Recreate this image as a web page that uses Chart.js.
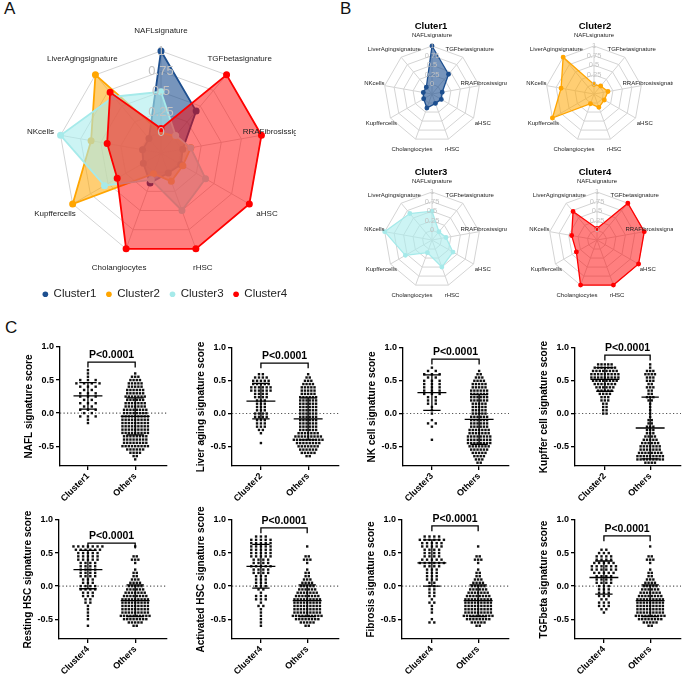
<!DOCTYPE html>
<html>
<head>
<meta charset="utf-8">
<script src="https://cdn.jsdelivr.net/npm/chart.js@4.4.1/dist/chart.umd.min.js"></script>
<style>
  body { margin: 0; width: 685px; height: 678px; position: relative; overflow: hidden; background: #fff;
         font-family: "Liberation Sans", Arial, sans-serif; }
  canvas { position: absolute; }
  .tag { position: absolute; font-size: 17px; line-height: 17px; color: #111; }
</style>
</head>
<body>
<div class="tag" style="left:4px;top:0px">A</div>
<div class="tag" style="left:340px;top:0px">B</div>
<div class="tag" style="left:5px;top:319px">C</div>
<script>
const FONT = '"Liberation Sans", Arial, sans-serif';

// ---------- panels A and B : radar scores ----------
const axisLabels = ['NAFLsignature', 'TGFbetasignature', 'RRAFibrosissignature', 'aHSC', 'rHSC',
                    'Cholangiocytes', 'Kupffercells', 'NKcells', 'LiverAgingsignature'];
const clusterNames = ['Cluster1', 'Cluster2', 'Cluster3', 'Cluster4'];
const clusterTitles = ['Cluter1', 'Cluter2', 'Cluter3', 'Cluter4'];
const cluster1 = [1, 0.42, 0.02, 0.03, 0.01, 0.14, 0.0, -0.02, -0.02];
const cluster2 = [0.0, 0.02, 0.12, 0.06, 0.12, 0.02, 1, 0.62, 1];
const cluster3 = [0.5, 0.03, 0.12, 0.38, 0.5, 0.1, 0.55, 1, 0.65];
const cluster4 = [0.05, 1, 1, 1, 1, 1, 0.37, 0.42, 0.72];
const radarMin = -0.25, radarMax = 1, radarStep = 0.25;

// ---------- panel C : dot counts per 0.05 step, from the start score ----------
const scoreTitles = ['NAFL signature score', 'Liver aging signature score', 'NK cell signature score',
  'Kupffer cell signature score', 'Resting HSC signature score', 'Activated HSC signature score',
  'Fibrosis signature score', 'TGFbeta signature score'];
const groupNames = [['Cluster1', 'Others'], ['Cluster2', 'Others'], ['Cluster3', 'Others'], ['Cluster2', 'Others'],
  ['Cluster4', 'Others'], ['Cluster4', 'Others'], ['Cluster4', 'Others'], ['Cluster4', 'Others']];
const pText = 'P<0.0001';
const yTicks = [-0.5, 0, 0.5, 1];

const naflCluster1 = [1,1,3,2,3,2,3,2,3,3,2,3,4,3,1,1,1];
const naflOthers = [1,2,4,6,9,8,8,8,9,9,9,9,9,9,8,8,7,7,6,7,6,6,5,5,4,3,1];
const agingCluster2 = [1,0,0,1,2,3,3,3,4,4,3,3,3,3,4,4,6,6,5,5,4,2];
const agingOthers = [2,5,6,7,8,10,9,7,6,6,6,6,6,6,6,6,6,6,6,5,5,5,4,3,2,1];
const nkCluster3 = [1,0,0,0,1,2,1,0,1,1,1,2,2,2,3,3,3,3,3,2,3,2,1];
const nkOthers = [2,3,4,5,6,7,8,8,8,7,7,6,6,6,6,5,5,5,5,6,6,6,6,5,5,4,3,2,1];
const kupfferCluster2 = [2,2,2,2,3,3,4,5,6,7,8,9,9,8,7,5];
const kupfferOthers = [4,9,9,8,7,7,6,5,4,3,3,3,2,2,1,1,1,1,1,2,3,2,2,3,2,3,3,4,3,1,1];
const restingCluster4 = [1,0,1,1,1,1,1,2,2,3,3,4,4,3,3,4,4,4,4,4,5,5,5,6,7];
const activatedCluster4 = [1,1,1,1,1,1,2,1,3,3,1,2,3,3,3,3,4,4,5,4,4,5,5,5,5,5,5,3];
const fibrosisCluster4 = [2,1,0,1,1,1,2,1,2,2,2,2,2,3,3,3,3,4,6,5,4,4,4,5,5,6,4];
const tgfbCluster4 = [1,2,3,3,2,3,3,3,3,4,4,4,5,6,6,5,4,4,3,2];
const hscOthers = [2,5,8,10,9,9,9,9,9,8,7,6,5,4,3,2,2,1,0,1,3,2,0,0,1];

const groupCounts = [[naflCluster1, naflOthers], [agingCluster2, agingOthers], [nkCluster3, nkOthers],
  [kupfferCluster2, kupfferOthers], [restingCluster4, hscOthers], [activatedCluster4, hscOthers],
  [fibrosisCluster4, hscOthers], [tgfbCluster4, hscOthers]];
const groupStart = [[-0.15, -0.7], [-0.45, -0.65], [-0.4, -0.75], [0, -0.75],
  [-0.6, -0.6], [-0.6, -0.6], [-0.55, -0.6], [-0.4, -0.6]];
const groupMean = [[0.26, -0.05], [0.19, -0.08], [0.32, -0.09], [0.52, -0.22],
  [0.25, -0.22], [0.3, -0.22], [0.35, -0.22], [0.13, -0.22]];
const groupSD = [[0.2, 0.28], [0.27, 0.32], [0.27, 0.38], [0.18, 0.47],
  [0.29, 0.24], [0.33, 0.24], [0.35, 0.24], [0.25, 0.24]];
const scoreStep = 0.05;

// ---------- layout ----------
const lineColors = ['#1d4f8f', '#ffa500', '#a6eaea', '#ff0000'];
const fillColors = ['rgba(29,79,143,0.6)', 'rgba(255,165,0,0.55)', 'rgba(170,236,236,0.6)', 'rgba(255,0,0,0.5)'];
const plotBoxes = [
  {axisX: 60, cat1X: 89, cat2X: 138, endX: 171, topY: 347, bottomY: 466, bracket: 0.77, gap: [8, 3.3]},
  {axisX: 232, cat1X: 262, cat2X: 311, endX: 343, topY: 348, bottomY: 466, bracket: 0.77, gap: [4, 3.3]},
  {axisX: 403, cat1X: 433, cat2X: 482, endX: 513, topY: 348, bottomY: 466, bracket: 0.83, gap: [8, 3.3]},
  {axisX: 575, cat1X: 606, cat2X: 653, endX: 685, topY: 348, bottomY: 466, bracket: 0.89, gap: [3.5, 3.3]},
  {axisX: 59, cat1X: 89, cat2X: 138, endX: 171, topY: 520, bottomY: 639, bracket: 0.65, gap: [5, 3.3]},
  {axisX: 232, cat1X: 262, cat2X: 310, endX: 343, topY: 520, bottomY: 639, bracket: 0.88, gap: [5, 3.3]},
  {axisX: 402, cat1X: 433, cat2X: 481, endX: 513, topY: 520, bottomY: 639, bracket: 0.91, gap: [5, 3.3]},
  {axisX: 575, cat1X: 605, cat2X: 653, endX: 685, topY: 520, bottomY: 639, bracket: 0.76, gap: [5, 3.3]}
];

Chart.defaults.font.family = FONT;
Chart.defaults.color = '#000';
Chart.defaults.plugins.tooltip.enabled = false;

function addCanvas(left, top, width, height) {
  const c = document.createElement('canvas');
  c.width = width; c.height = height;
  c.style.left = left + 'px'; c.style.top = top + 'px';
  c.style.width = width + 'px'; c.style.height = height + 'px';
  document.body.appendChild(c);
  return c;
}

// axis names, centred on each spoke (cut at the panel edge like the original)
const spokeLabels = {
  id: 'spokeLabels',
  afterDatasetsDraw(chart, args, opts) {
    const r = chart.scales.r, ctx = chart.ctx;
    ctx.save();
    ctx.beginPath();
    ctx.rect(0, 0, opts.clipRight || chart.width, chart.height);
    ctx.clip();
    ctx.font = opts.size + 'px ' + FONT;
    ctx.fillStyle = '#222';
    ctx.textAlign = 'center';
    ctx.textBaseline = 'middle';
    chart.data.labels.forEach((t, i) => {
      const p = r.getPointPosition(i, r.drawingArea * opts.dist);
      ctx.fillText(t, p.x, p.y);
    });
    ctx.restore();
  }
};

function radarDataset(k, big) {
  return {
    label: clusterNames[k],
    data: [cluster1, cluster2, cluster3, cluster4][k],
    borderColor: lineColors[k], backgroundColor: fillColors[k],
    pointBackgroundColor: lineColors[k], pointBorderColor: lineColors[k],
    pointRadius: big ? 2.6 : 1.8, borderWidth: big ? 1.8 : 1.3,
    fill: 'start', clip: false, order: 4 - k
  };
}

function radarChart(canvas, datasets, o) {
  return new Chart(canvas, {
    type: 'radar',
    data: {labels: axisLabels, datasets: datasets},
    options: {
      responsive: false, animation: false, events: [], devicePixelRatio: 1,
      layout: {padding: o.padding},
      scales: {
        r: {
          min: radarMin, max: radarMax,
          ticks: {stepSize: radarStep, showLabelBackdrop: false, color: '#c2c2c2', z: 1,
                  font: {size: o.tickSize}, callback: v => v < 0 ? '' : String(+v.toFixed(2))},
          grid: {color: '#d4d4d4'},
          angleLines: {color: '#d4d4d4'},
          pointLabels: {display: false},
          afterFit: s => { s.xCenter = o.cx; s.yCenter = o.cy; s.drawingArea = o.radius; }
        }
      },
      plugins: {
        legend: o.legend || {display: false},
        title: o.title || {display: false},
        spokeLabels: {size: o.labelSize, dist: o.dist, clipRight: o.clipRight}
      }
    },
    plugins: [spokeLabels]
  });
}

// Panel A
radarChart(addCanvas(0, 0, 330, 310), [0, 1, 2, 3].map(k => radarDataset(k, true)), {
  cx: 161, cy: 153, radius: 102, tickSize: 13, labelSize: 8, dist: 1.2, clipRight: 296,
  padding: {top: 40},
  legend: {
    display: true, position: 'bottom',
    labels: {
      usePointStyle: true, pointStyle: 'circle', boxWidth: 5, boxHeight: 4, padding: 10,
      font: {size: 11.5}, color: '#222',
      sort: (a, b) => a.datasetIndex - b.datasetIndex,
      generateLabels: chart => Chart.defaults.plugins.legend.labels.generateLabels(chart)
        .map(l => Object.assign(l, {fillStyle: l.strokeStyle, lineWidth: 0}))
    }
  }
});

// Panel B
const smallBoxes = [
  {left: 355, top: 15, width: 152, cx: 77},
  {left: 517, top: 15, width: 156, cx: 77},
  {left: 355, top: 161, width: 152, cx: 77},
  {left: 517, top: 161, width: 156, cx: 80}
];
smallBoxes.forEach((b, k) => {
  radarChart(addCanvas(b.left, b.top, b.width, 142), [radarDataset(k, false)], {
    cx: b.cx, cy: 79, radius: 48, tickSize: 7.5, labelSize: 6, dist: 1.22,
    padding: 0,
    title: {display: true, text: clusterTitles[k], color: '#000',
            font: {size: 9.5, weight: 'bold'}, padding: {top: 6, bottom: 4}}
  });
});

// Panel C
const pValue = {
  id: 'pValue',
  afterDatasetsDraw(chart, args, opts) {
    const {ctx, scales: {x, y}} = chart;
    ctx.save();
    ctx.font = 'bold 10.5px ' + FONT;
    ctx.fillStyle = '#000';
    ctx.textAlign = 'center';
    ctx.textBaseline = 'bottom';
    ctx.fillText(opts.text, x.getPixelForValue(1.5), y.getPixelForValue(opts.at) - 2);
    ctx.restore();
  }
};

function dotRows(counts, start, cat, gap) {
  const pts = [];
  counts.forEach((n, i) => {
    const y = +(start + i * scoreStep).toFixed(2);
    for (let j = 0; j < n; j++) pts.push({x: cat + (j - (n - 1) / 2) * gap, y: y});
  });
  return pts;
}

function meanSD(cat, mean, sd, mw, cw) {
  return [
    {x: cat - mw, y: mean}, {x: cat + mw, y: mean}, {x: cat, y: null},
    {x: cat - cw, y: mean + sd}, {x: cat + cw, y: mean + sd}, {x: cat, y: null},
    {x: cat - cw, y: mean - sd}, {x: cat + cw, y: mean - sd}, {x: cat, y: null},
    {x: cat, y: mean - sd}, {x: cat, y: mean + sd}
  ];
}

function scorePlot(i) {
  const b = plotBoxes[i];
  const left = b.axisX - 60, top = b.topY - 22;
  const height = (i < 4 ? 507 : 678) - top;
  const unit = b.cat2X - b.cat1X;
  const xMin = 1 - (b.cat1X - b.axisX) / unit, xMax = 2 + (b.endX - b.cat2X) / unit;
  const axisStyle = {display: true, color: '#000', width: 1.3};
  const tickStyle = {drawOnChartArea: false, drawTicks: true, tickLength: 4, color: '#000', lineWidth: 1.3};
  const lineSet = (data, extra) => Object.assign({type: 'line', data: data, borderColor: '#000',
    borderWidth: 1.3, pointRadius: 0, fill: false, order: 1}, extra || {});
  const dotSet = (g) => ({data: dotRows(groupCounts[i][g], groupStart[i][g], g + 1, b.gap[g] / unit),
    pointRadius: 1.7, pointStyle: 'rect', backgroundColor: '#111', borderWidth: 0, order: 3});

  const datasets = [
    lineSet([{x: xMin, y: 0}, {x: xMax, y: 0}], {borderColor: '#555', borderWidth: 1.1, borderDash: [1.2, 2.3], order: 5}),
    dotSet(0), dotSet(1),
    lineSet(meanSD(1, groupMean[i][0], groupSD[i][0], 15 / unit, 9 / unit)),
    lineSet(meanSD(2, groupMean[i][1], groupSD[i][1], 15 / unit, 9 / unit)),
    lineSet([{x: 1, y: b.bracket - 0.08}, {x: 1, y: b.bracket}, {x: 2, y: b.bracket}, {x: 2, y: b.bracket - 0.08}])
  ];

  new Chart(addCanvas(left, top, b.endX - left, height), {
    type: 'scatter',
    data: {datasets: datasets},
    options: {
      responsive: false, animation: false, events: [], devicePixelRatio: 1,
      layout: {padding: {top: 22, left: 0, right: 0, bottom: 0}},
      scales: {
        x: {
          type: 'linear', min: xMin, max: xMax,
          afterBuildTicks: s => { s.ticks = [{value: 1}, {value: 2}]; },
          afterFit: s => { s.height = height - (b.bottomY - top); },
          ticks: {callback: v => groupNames[i][Math.round(v) - 1], minRotation: 45, maxRotation: 45,
                  autoSkip: false, padding: 1, font: {size: 9, weight: 'bold'}, color: '#000'},
          grid: tickStyle, border: axisStyle
        },
        y: {
          min: -0.8, max: 1,
          afterBuildTicks: s => { s.ticks = yTicks.map(v => ({value: v})); },
          afterFit: s => { s.width = 60; },
          ticks: {callback: v => v.toFixed(1), padding: 2, font: {size: 9, weight: 'bold'}, color: '#000'},
          grid: tickStyle, border: axisStyle,
          title: {display: true, text: scoreTitles[i], color: '#000', font: {size: 10, weight: 'bold'},
                  padding: {top: 23, bottom: 0}}
        }
      },
      plugins: {legend: {display: false}, pValue: {text: pText, at: b.bracket}}
    },
    plugins: [pValue]
  });
}

for (let i = 0; i < 8; i++) scorePlot(i);
</script>
</body>
</html>
